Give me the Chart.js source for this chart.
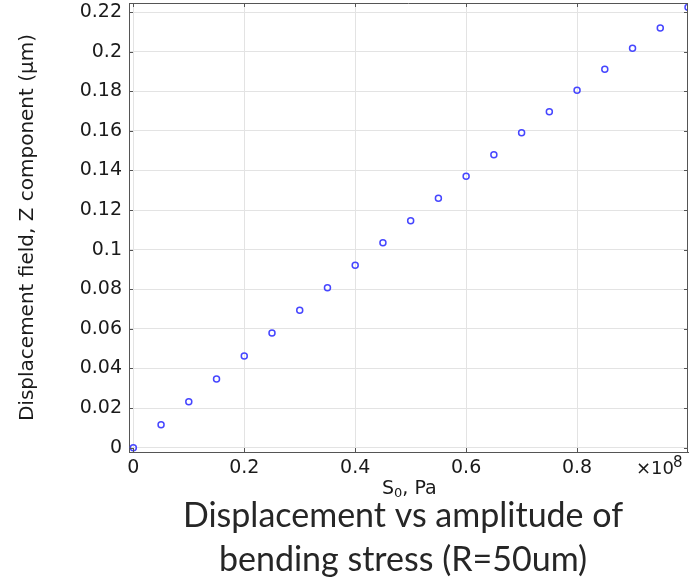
<!DOCTYPE html>
<html>
<head>
<meta charset="utf-8">
<script src="https://cdn.jsdelivr.net/npm/chart.js@4/dist/chart.umd.min.js"></script>
<style>
  html, body { margin: 0; padding: 0; background: #fff; }
  #wrap { width: 689px; height: 581px; }
</style>
</head>
<body>
<div id="wrap"><canvas id="myChart"></canvas></div>
<script>
// Amplitude of bending stress S0 (in units of 1e8 Pa)
const stressValues = [0, 0.05, 0.1, 0.15, 0.2, 0.25, 0.3, 0.35, 0.4, 0.45, 0.5,
                      0.55, 0.6, 0.65, 0.7, 0.75, 0.8, 0.85, 0.9, 0.95, 1.0];
// Displacement field, Z component (um)
const displacement = [0, 0.0116, 0.0232, 0.0347, 0.0463, 0.0579, 0.0694, 0.0808, 0.0921, 0.1035, 0.1146,
                      0.1260, 0.1371, 0.1480, 0.1590, 0.1697, 0.1805, 0.1911, 0.2017, 0.2120, 0.2224];

// Tick labels
const xTicks = [0, 0.2, 0.4, 0.6, 0.8];
const yTicks = [0, 0.02, 0.04, 0.06, 0.08, 0.1, 0.12, 0.14, 0.16, 0.18, 0.2, 0.22];

const titleLines = ['Displacement vs amplitude of', 'bending stress (R=50um)'];

const points = stressValues.map((x, i) => ({ x: x, y: displacement[i] }));

const axisFont = 'DejaVu Sans';
const textColor = '#1a1a1a';
const frameColor = '#555555';

// frame on top/right, inward tick marks, x-axis title with subscript,
// the x10^8 multiplier and the big caption under the plot
const framePlugin = {
    id: 'frame',
    afterDraw(chart) {
        const { ctx, chartArea: a, scales } = chart;
        ctx.save();
        ctx.strokeStyle = frameColor;
        ctx.lineWidth = 1;
        ctx.beginPath();
        ctx.moveTo(a.left, a.top + 0.5);
        ctx.lineTo(a.right, a.top + 0.5);
        ctx.moveTo(a.right - 0.5, a.top);
        ctx.lineTo(a.right - 0.5, a.bottom);
        xTicks.forEach(v => {
            const px = Math.round(scales.x.getPixelForValue(v)) + 0.5;
            ctx.moveTo(px, a.bottom); ctx.lineTo(px, a.bottom - 4);
            ctx.moveTo(px, a.top); ctx.lineTo(px, a.top + 4);
        });
        yTicks.forEach(v => {
            const py = Math.round(scales.y.getPixelForValue(v)) + 0.5;
            ctx.moveTo(a.left, py); ctx.lineTo(a.left + 4, py);
            ctx.moveTo(a.right, py); ctx.lineTo(a.right - 4, py);
        });
        ctx.stroke();

        ctx.fillStyle = textColor;
        ctx.textBaseline = 'alphabetic';
        ctx.textAlign = 'left';

        // multiplier
        ctx.font = '18px "' + axisFont + '"';
        ctx.fillText('×10', 636, 474);
        ctx.font = '15px "' + axisFont + '"';
        ctx.fillText('8', 673, 466.5);

        // x-axis title: S0, Pa
        let x = 382;
        ctx.font = '19px "' + axisFont + '"';
        ctx.fillText('S', x, 494);
        x += ctx.measureText('S').width;
        ctx.font = '13px "' + axisFont + '"';
        ctx.fillText('0', x, 497);
        x += ctx.measureText('0').width;
        ctx.font = '19px "' + axisFont + '"';
        ctx.fillText(', Pa', x, 494);

        // caption
        ctx.fillStyle = '#262626';
        ctx.textAlign = 'center';
        ctx.font = '34px Lato';
        ctx.fillText(titleLines[0], 403, 527);
        ctx.fillText(titleLines[1], 403, 571);
        ctx.restore();
    }
};

new Chart(document.getElementById('myChart'), {
    type: 'scatter',
    data: {
        datasets: [{
            data: points,
            borderColor: 'rgb(70, 70, 255)',
            backgroundColor: 'rgba(0,0,0,0)',
            pointRadius: 3,
            pointBorderWidth: 1.5,
            pointHoverRadius: 3
        }]
    },
    options: {
        responsive: true,
        maintainAspectRatio: false,
        animation: false,
        layout: { autoPadding: false, padding: { top: 3, right: 1, left: 0, bottom: 88 } },
        plugins: {
            legend: { display: false },
            tooltip: { enabled: false },
            title: { display: false }
        },
        scales: {
            x: {
                type: 'linear',
                min: -0.0078,
                max: 1.0,
                afterBuildTicks: scale => { scale.ticks = xTicks.map(v => ({ value: v })); },
                afterFit: scale => {
                    scale.height = 41;
                    scale.paddingLeft = 0;
                    scale.paddingRight = 0;
                },
                ticks: {
                    color: textColor,
                    font: { family: axisFont, size: 19 },
                    padding: 5,
                    maxRotation: 0,
                    callback: v => String(v)
                },
                grid: { color: '#e3e3e3', drawTicks: false },
                border: { color: frameColor }
            },
            y: {
                type: 'linear',
                min: -0.0022,
                max: 0.2246,
                afterBuildTicks: scale => { scale.ticks = yTicks.map(v => ({ value: v })); },
                afterFit: scale => {
                    scale.width = 129;
                    scale.paddingTop = 0;
                    scale.paddingBottom = 0;
                },
                ticks: {
                    color: textColor,
                    font: { family: axisFont, size: 19 },
                    padding: 7,
                    callback: v => String(v)
                },
                grid: { color: '#e3e3e3', drawTicks: false },
                border: { color: frameColor },
                title: {
                    display: true,
                    text: 'Displacement field, Z component (µm)',
                    color: textColor,
                    font: { family: axisFont, size: 20, lineHeight: 1.2 },
                    padding: { top: 16, bottom: 0 }
                }
            }
        }
    },
    plugins: [framePlugin]
});
</script>
</body>
</html>
